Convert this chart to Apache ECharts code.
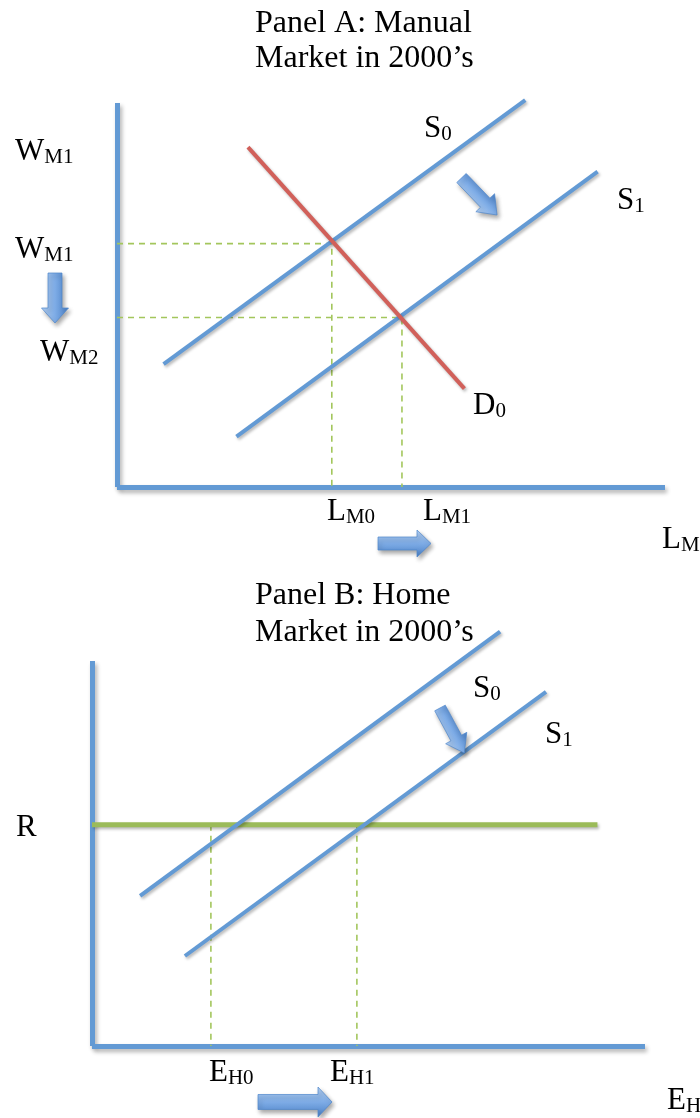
<!DOCTYPE html>
<html>
<head>
<meta charset="utf-8">
<script src="https://cdn.jsdelivr.net/npm/echarts@6/dist/echarts.min.js"></script>
<style>
html,body{margin:0;padding:0;background:#ffffff;}
#chart{width:700px;height:1118px;}
</style>
</head>
<body>
<div id="chart"></div>
<script>
// ---------------- DATA ----------------
// Panel A – manual labour market: x = quantity of labour L_M (0..10), y = wage W_M (0..8)
const manualTitleLines = ['Panel A: Manual', 'Market in 2000\u2019s'];
const manualSupply0 = [[0.85, 2.56], [7.45, 8.06]];
const manualSupply1 = [[2.18, 1.05], [8.77, 6.57]];
const manualDemand0 = [[2.39, 7.08], [6.34, 2.05]];
const manualEquilibrium0 = [3.92, 5.07];
const manualEquilibrium1 = [5.20, 3.53];
const manualAxisLabels = [['W', 'M1'], ['W', 'M1'], ['W', 'M2'], ['L', 'M0'], ['L', 'M1'], ['L', 'M']];
const manualCurveLabels = [['S', '0'], ['S', '1'], ['D', '0']];

// Panel B – home market: x = E_H (0..10), y = R (0..8)
const homeTitleLines = ['Panel B: Home', 'Market in 2000\u2019s'];
const homeSupply0 = [[0.87, 3.12], [7.38, 8.61]];
const homeSupply1 = [[1.68, 1.87], [8.21, 7.36]];
const homeRate = 4.60;
const homeRateEnd = 9.14;
const homeQuantities = [2.15, 4.79];
const homeAxisLabels = [['R', ''], ['E', 'H0'], ['E', 'H1'], ['E', 'H']];
const homeCurveLabels = [['S', '0'], ['S', '1']];

// ---------------- STYLE ----------------
const FONT = '"Liberation Serif", "DejaVu Serif", serif';
const BLUE = '#639ad4';
const RED = '#d1605a';
const GREEN = '#9bbb59';
const DASH = '#a3c65c';
const lineShadow = {shadowColor: 'rgba(0,0,0,0.28)', shadowBlur: 3, shadowOffsetX: 1.5, shadowOffsetY: 2};

function curve(data, gi, color, width, z) {
  return {
    type: 'line', xAxisIndex: gi, yAxisIndex: gi, data: data,
    symbol: 'none', silent: true, clip: false, z: z || 3,
    lineStyle: Object.assign({color: color, width: width, cap: 'butt'}, lineShadow)
  };
}
function dashed(data, gi) {
  return {
    type: 'line', xAxisIndex: gi, yAxisIndex: gi, data: data,
    symbol: 'none', silent: true, clip: false, z: 2,
    lineStyle: {color: DASH, width: 1.6, type: [6, 5]}
  };
}
function axisStyle() {
  return {
    show: true, onZero: false,
    lineStyle: Object.assign({color: BLUE, width: 5, cap: 'butt'},
      {shadowColor: 'rgba(0,0,0,0.3)', shadowBlur: 4, shadowOffsetX: 2, shadowOffsetY: 3})
  };
}
function valueAxis(gi, max) {
  return {
    type: 'value', gridIndex: gi, min: 0, max: max,
    axisLine: axisStyle(), axisTick: {show: false}, axisLabel: {show: false}, splitLine: {show: false}
  };
}

// label with subscript, placed by left x and baseline y
function subLabel(pair, x, baseline) {
  const main = pair[0], sub = pair[1];
  return {
    type: 'text', x: x, y: baseline - 10, silent: true, z: 20,
    style: {
      text: '{a|' + main + '}' + (sub ? '{b|' + sub + '}' : ''),
      align: 'left', verticalAlign: 'middle',
      rich: {
        a: {fontSize: 31, fontFamily: FONT, fill: '#000', verticalAlign: 'bottom'},
        b: {fontSize: 21, fontFamily: FONT, fill: '#000', verticalAlign: 'bottom'}
      }
    }
  };
}
function titleText(lines, x, baseline1, spacing) {
  return lines.map(function (t, i) {
    return {
      type: 'text', x: x, y: baseline1 + i * spacing - 10, silent: true, z: 20,
      style: {text: t, fontSize: 32, fontFamily: FONT, fill: '#000', align: 'left', verticalAlign: 'middle'}
    };
  });
}
// block arrow decoration
function blockArrow(x1, y1, x2, y2, shaftW, headW, headL) {
  const dx = x2 - x1, dy = y2 - y1, len = Math.sqrt(dx * dx + dy * dy);
  const ux = dx / len, uy = dy / len;
  let nx = uy, ny = -ux;
  if (nx + ny > 0 || (nx + ny === 0 && ny > 0)) { nx = -nx; ny = -ny; }
  const bx = x2 - ux * headL, by = y2 - uy * headL;
  const s = shaftW / 2, h = headW / 2;
  const pts = [
    [x1 + nx * s, y1 + ny * s], [bx + nx * s, by + ny * s], [bx + nx * h, by + ny * h],
    [x2, y2],
    [bx - nx * h, by - ny * h], [bx - nx * s, by - ny * s], [x1 - nx * s, y1 - ny * s]
  ];
  const mx = (x1 + x2) / 2, my = (y1 + y2) / 2;
  return {
    type: 'polygon', silent: true, z: 15,
    shape: {points: pts},
    style: {
      fill: new echarts.graphic.LinearGradient(mx + nx * h, my + ny * h, mx - nx * h, my - ny * h,
        [{offset: 0, color: '#b4d0f2'}, {offset: 0.5, color: '#7eace6'}, {offset: 1, color: '#4a80c6'}], true),
      stroke: '#4f86cb', lineWidth: 0.7,
      shadowColor: 'rgba(0,0,0,0.35)', shadowBlur: 4, shadowOffsetX: 2, shadowOffsetY: 3
    }
  };
}

// ---------------- OPTION ----------------
const eA0 = manualEquilibrium0, eA1 = manualEquilibrium1;
const series = [
  dashed([[0, eA0[1]], [eA0[0], eA0[1]], [eA0[0], 0]], 0),
  dashed([[0, eA1[1]], [eA1[0], eA1[1]], [eA1[0], 0]], 0),
  curve(manualSupply0, 0, BLUE, 4),
  curve(manualSupply1, 0, BLUE, 4),
  curve(manualDemand0, 0, RED, 4, 4),
  dashed([[homeQuantities[0], homeRate], [homeQuantities[0], 0]], 1),
  dashed([[homeQuantities[1], homeRate], [homeQuantities[1], 0]], 1),
  curve([[0, homeRate], [homeRateEnd, homeRate]], 1, GREEN, 5, 3),
  curve(homeSupply0, 1, BLUE, 4, 4),
  curve(homeSupply1, 1, BLUE, 4, 4)
];

const graphics = [].concat(
  titleText(manualTitleLines, 255, 34, 35),
  titleText(homeTitleLines, 255, 606, 37),
  [
    subLabel(manualAxisLabels[0], 15, 162),
    subLabel(manualAxisLabels[1], 15, 260),
    subLabel(manualAxisLabels[2], 40, 363),
    subLabel(manualAxisLabels[3], 327, 522),
    subLabel(manualAxisLabels[4], 423, 522),
    subLabel(manualAxisLabels[5], 662, 550),
    subLabel(manualCurveLabels[0], 424, 139),
    subLabel(manualCurveLabels[1], 617, 211),
    subLabel(manualCurveLabels[2], 473, 416),
    subLabel(homeAxisLabels[0], 16, 838),
    subLabel(homeAxisLabels[1], 209, 1083),
    subLabel(homeAxisLabels[2], 330, 1083),
    subLabel(homeAxisLabels[3], 667, 1111),
    subLabel(homeCurveLabels[0], 473, 699),
    subLabel(homeCurveLabels[1], 545, 745),
    blockArrow(55, 273, 55, 323, 14, 27, 15),
    blockArrow(378, 543.5, 431, 543.5, 13, 27, 14),
    blockArrow(461.5, 178, 497, 215, 13, 26, 17),
    blockArrow(258, 1102, 332, 1102, 15, 30, 14),
    blockArrow(440, 708, 464.3, 753, 12, 24, 17)
  ]
);

const option = {
  animation: false,
  backgroundColor: '#ffffff',
  grid: [
    {left: 117, top: 103, width: 548, height: 384},
    {left: 92, top: 661, width: 553, height: 385}
  ],
  xAxis: [valueAxis(0, 10), valueAxis(1, 10)],
  yAxis: [valueAxis(0, 8), valueAxis(1, 8)],
  series: series,
  graphic: graphics
};

const chart = echarts.init(document.getElementById('chart'));
chart.setOption(option);
</script>
</body>
</html>
